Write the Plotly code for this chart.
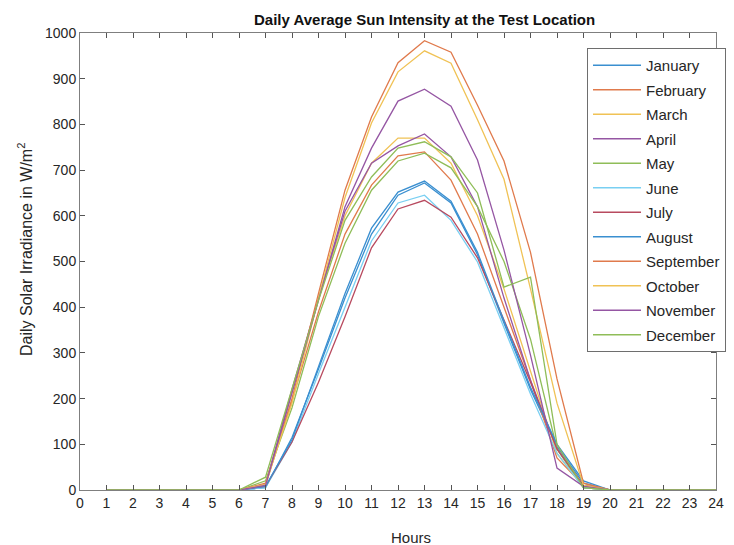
import plotly.graph_objects as go

hours = list(range(1, 25))

months = ["January", "February", "March", "April", "May", "June", "July",
          "August", "September", "October", "November", "December"]

# values for hours 1..24 (W/m^2)
january   = [0,0,0,0,0,0, 5,115,265,420,560,645,672,628,515,365,220, 95,15,0,0,0,0,0]
february  = [0,0,0,0,0,0,10,195,390,560,667,731,740,678,560,400,240, 70,10,0,0,0,0,0]
march     = [0,0,0,0,0,0,10,215,420,600,715,770,770,715,600,440,260, 80, 5,0,0,0,0,0]
april     = [0,0,0,0,0,0,12,220,420,610,715,753,779,729,620,420,240, 90, 5,0,0,0,0,0]
may       = [0,0,0,0,0,0,20,180,380,540,656,720,737,705,620,500,330, 90, 5,0,0,0,0,0]
june      = [0,0,0,0,0,0, 5,105,255,400,545,628,645,590,499,355,210, 80, 5,0,0,0,0,0]
july      = [0,0,0,0,0,0, 8,105,236,379,530,615,634,597,508,370,236, 90,10,0,0,0,0,0]
august    = [0,0,0,0,0,0, 8,110,270,430,573,652,676,632,520,370,225,100,20,0,0,0,0,0]
september = [0,0,0,0,0,0,15,200,430,656,816,935,983,958,842,720,520,243,15,0,0,0,0,0]
october   = [0,0,0,0,0,0,12,190,420,640,803,915,961,934,810,680,440,190,10,0,0,0,0,0]
november  = [0,0,0,0,0,0,10,210,415,620,748,851,877,840,722,525,295, 48, 8,0,0,0,0,0]
december  = [0,0,0,0,0,0,28,220,415,590,685,748,762,729,650,444,466,100, 5,0,0,0,0,0]

series = [january, february, march, april, may, june, july,
          august, september, october, november, december]

colors = ["#3a8fd0", "#e07a4c", "#f0c255", "#9556a3", "#8fbd58", "#79cff2", "#b84a5f",
          "#3a8fd0", "#e07a4c", "#f0c255", "#9556a3", "#8fbd58"]

x_ticks = list(range(0, 25))
y_ticks = list(range(0, 1001, 100))

fig = go.Figure()
for i, (name, vals) in enumerate(zip(months, series)):
    fig.add_trace(go.Scatter(x=hours, y=vals, mode="lines", name=name,
                             legendgroup=name,
                             line=dict(color=colors[i], width=1.3)))

# page body has an 8px margin, so work in screen coords and subtract 8
OFF = 8
W, H = 734 - OFF, 545 - OFF
L, T = 80 - OFF, 33 - OFF
R = W - (716 - OFF)
B = H - (490 - OFF)
pw, ph = W - L - R, H - T - B

def px(xs):
    return (xs - OFF - L) / pw

def py(ys):
    return (H - B - (ys - OFF)) / ph

axis_common = dict(showline=True, linecolor="#7f7f7f", linewidth=1, mirror="ticks",
                   ticks="inside", ticklen=5, tickcolor="#555555", showgrid=False,
                   zeroline=False, automargin=False,
                   tickfont=dict(size=14, color="#262626",
                                 family="Liberation Sans, Arial"))

fig.update_layout(
    width=W, height=H,
    margin=dict(l=L, r=R, t=T, b=B, autoexpand=False),
    plot_bgcolor="white", paper_bgcolor="white",
    font=dict(family="Liberation Sans, Arial", color="#262626"),
    showlegend=True,
    legend=dict(x=px(587), y=py(48), xanchor="left", yanchor="top",
                bgcolor="white", bordercolor="#6e6e6e", borderwidth=1,
                font=dict(size=15, color="#262626"), tracegroupgap=2,
                itemwidth=48),
    xaxis=dict(range=[0, 24], tickmode="array", tickvals=x_ticks,
               ticktext=[str(v) for v in x_ticks], **axis_common),
    yaxis=dict(range=[0, 1000], tickmode="array", tickvals=y_ticks,
               ticktext=[str(v) for v in y_ticks], **axis_common),
)

fig.add_annotation(text="<b>Daily Average Sun Intensity at the Test Location</b>",
                   x=px(424), y=py(20), xref="paper", yref="paper",
                   xanchor="center", yanchor="middle",
                   showarrow=False, font=dict(size=15, color="#111111"))
fig.add_annotation(text="Hours", x=px(411), y=py(537), xref="paper", yref="paper",
                   xanchor="center", yanchor="middle",
                   showarrow=False, font=dict(size=15, color="#262626"))
fig.add_annotation(text="Daily Solar Irradiance in W/m<sup>2</sup>", textangle=-90,
                   x=px(25), y=py(250), xref="paper", yref="paper",
                   xanchor="center", yanchor="middle",
                   showarrow=False, font=dict(size=16, color="#262626"))

fig.write_html("out.html")
